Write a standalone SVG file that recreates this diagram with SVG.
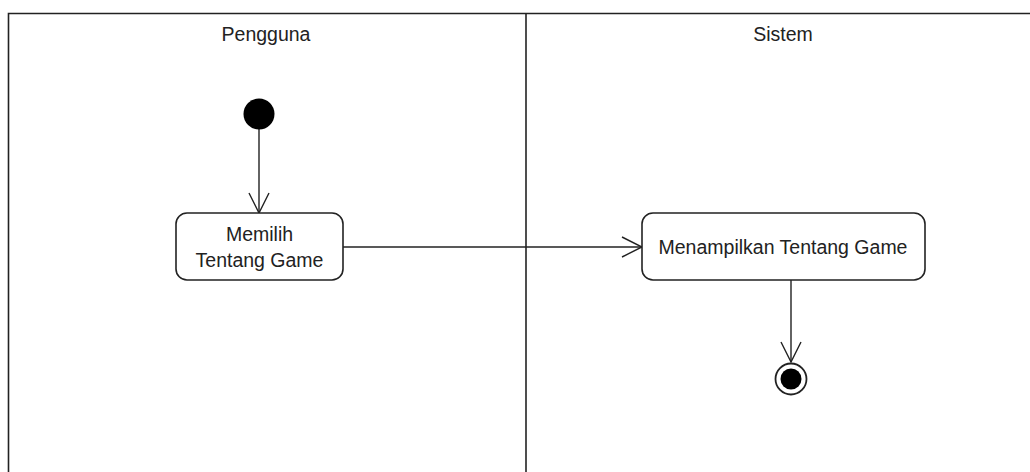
<svg xmlns="http://www.w3.org/2000/svg" width="1030" height="472" viewBox="0 0 1030 472">
  <defs>
    <style>
      .lane { fill: none; stroke: #222; stroke-width: 1.6; }
      .action { fill: #fff; stroke: #222; stroke-width: 1.6; }
      .edge { fill: none; stroke: #222; stroke-width: 1.4; }
      .label { font-family: "Liberation Sans", Arial, sans-serif; font-size: 19.5px; fill: #222; text-anchor: middle; }
    </style>
    <marker id="open-arrow" viewBox="0 0 22 22" refX="21" refY="11" markerWidth="22" markerHeight="22" markerUnits="userSpaceOnUse" orient="auto">
      <path d="M1,1 L21,11 L1,21" fill="none" stroke="#222" stroke-width="1.4"/>
    </marker>
  </defs>
  <rect width="1030" height="472" fill="#fff"/>

  <!-- swimlanes -->
  <g id="lanes">
    <path class="lane" d="M8.5,472 V13.5 H1040"/>
    <line class="lane" x1="526" y1="13.5" x2="526" y2="472"/>
    <text class="label" x="266" y="41">Pengguna</text>
    <text class="label" x="783" y="41">Sistem</text>
  </g>

  <!-- connectors -->
  <g id="connectors">
    <line class="edge" x1="259" y1="129" x2="259" y2="213" marker-end="url(#open-arrow)"/>
    <line class="edge" x1="343" y1="247" x2="642" y2="247" marker-end="url(#open-arrow)"/>
    <line class="edge" x1="791" y1="280" x2="791" y2="362" marker-end="url(#open-arrow)"/>
  </g>

  <!-- initial node -->
  <g id="start">
    <circle cx="259" cy="114" r="15.5" fill="#000"/>
  </g>

  <!-- action: Memilih Tentang Game -->
  <g id="memilih-tentang-game">
    <rect class="action" x="176" y="213" width="167" height="67" rx="11"/>
    <text class="label" x="259.5" y="241">Memilih</text>
    <text class="label" x="259.5" y="267">Tentang Game</text>
  </g>

  <!-- action: Menampilkan Tentang Game -->
  <g id="menampilkan-tentang-game">
    <rect class="action" x="642" y="213" width="283" height="67" rx="11"/>
    <text class="label" x="783" y="254">Menampilkan Tentang Game</text>
  </g>

  <!-- final node -->
  <g id="end">
    <circle cx="791" cy="379" r="15.5" fill="#fff" stroke="#222" stroke-width="1.8"/>
    <circle cx="791" cy="379" r="10.5" fill="#000"/>
  </g>
</svg>
